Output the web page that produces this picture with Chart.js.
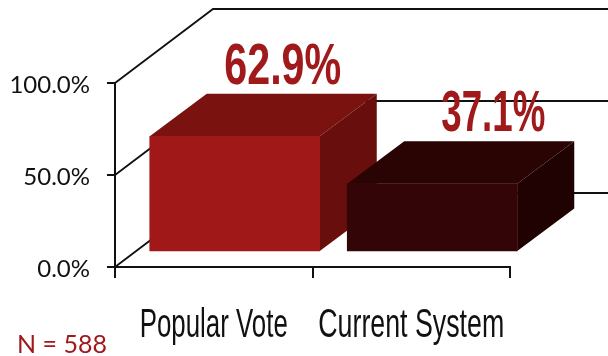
<!DOCTYPE html>
<html lang="en">
  <head>
    <meta charset="UTF-8" />
    <title>Popular Vote vs Current System</title>
    <script src="https://cdn.jsdelivr.net/npm/chart.js"></script>
    <style>
      html, body { margin: 0; padding: 0; background: #fff; }
      canvas { display: block; }
    </style>
  </head>
  <body>
    <canvas id="voteChart" width="608" height="356"></canvas>

    <script>
      const categories = ["Popular Vote", "Current System"];
      const shares = [62.9, 37.1];
      const yTicks = [0, 50, 100];
      const sampleNote = "N = 588";

      const frontColors = ["#A01818", "#340506"];
      const topColors = ["#7A1210", "#290403"];
      const sideColors = ["#680E0C", "#200202"];
      const labelRed = "#A01A1C";
      const lineColor = "#111";

      // fake 3D: how far the walls go back, where the bars sit, how deep they are
      const wallDepth = { x: 98, y: -74 };
      const barShift = { x: 21, y: -15 };
      const barDepth = { x: 57, y: -42.5 };
      const labelWidths = [117, 104];
      const labelNudge = [48, 61];
      const categoryWidths = [148, 186];

      function polygon(ctx, points, color) {
        ctx.fillStyle = color;
        ctx.beginPath();
        points.forEach((p, i) => (i ? ctx.lineTo(p[0], p[1]) : ctx.moveTo(p[0], p[1])));
        ctx.closePath();
        ctx.fill();
      }

      const walls = {
        id: "walls",
        beforeDatasetsDraw(chart) {
          const { ctx, scales, chartArea } = chart;
          ctx.save();
          ctx.strokeStyle = lineColor;
          ctx.lineWidth = 1.8;
          yTicks.forEach((tick) => {
            const y = scales.y.getPixelForValue(tick);
            ctx.beginPath();
            ctx.moveTo(chartArea.left, y);
            ctx.lineTo(chartArea.left + wallDepth.x, y + wallDepth.y);
            ctx.lineTo(chart.width, y + wallDepth.y);
            ctx.stroke();
          });
          ctx.restore();
        },
      };

      const boxes = {
        id: "boxes",
        beforeDatasetDraw(chart, args) {
          const { ctx } = chart;
          const bars = chart.getDatasetMeta(args.index).data;
          ctx.save();
          ctx.translate(barShift.x, barShift.y);
          // top and side faces go under the native bars, which are the front faces
          bars.forEach((bar, i) => {
            const left = bar.x - bar.width / 2;
            const right = bar.x + bar.width / 2;
            const dx = barDepth.x;
            const dy = barDepth.y;
            polygon(ctx, [[left, bar.y], [right, bar.y], [right + dx, bar.y + dy], [left + dx, bar.y + dy]], topColors[i]);
            polygon(ctx, [[right, bar.y], [right + dx, bar.y + dy], [right + dx, bar.base + dy], [right, bar.base]], sideColors[i]);
          });
        },
        afterDatasetDraw(chart) {
          chart.ctx.restore();
        },
        afterDraw(chart) {
          const { ctx, scales } = chart;
          const bars = chart.getDatasetMeta(0).data;
          ctx.save();
          ctx.textAlign = "center";
          ctx.textBaseline = "alphabetic";

          // value labels over each box
          ctx.fillStyle = labelRed;
          ctx.font = "bold 57px 'Liberation Sans Narrow', 'Liberation Sans'";
          bars.forEach((bar, i) => {
            const x = bar.x + barShift.x + labelNudge[i];
            ctx.fillText(shares[i].toFixed(1) + "%", x, bar.y + barShift.y + barDepth.y - 10, labelWidths[i]);
          });

          // category names, narrow and tall
          ctx.fillStyle = "#111";
          ctx.font = "40px 'Liberation Sans Narrow', 'Liberation Sans'";
          categories.forEach((name, i) => {
            ctx.fillText(name, scales.x.getPixelForValue(i), 337, categoryWidths[i]);
          });

          ctx.fillStyle = labelRed;
          ctx.textAlign = "left";
          ctx.font = "25px Lato";
          ctx.fillText(sampleNote, 17, 353);
          ctx.restore();
        },
      };

      new Chart(document.getElementById("voteChart").getContext("2d"), {
        type: "bar",
        data: {
          labels: categories,
          datasets: [{ data: shares, backgroundColor: frontColors, barThickness: 170, borderWidth: 0 }],
        },
        plugins: [walls, boxes],
        options: {
          responsive: false,
          animation: false,
          layout: { padding: { top: 83, right: 98 } },
          plugins: { legend: { display: false }, tooltip: { enabled: false } },
          scales: {
            x: {
              afterFit: (axis) => { axis.height = 89; },
              border: { color: lineColor, width: 2 },
              grid: { offset: true, drawOnChartArea: false, color: lineColor, lineWidth: 2, tickLength: 11 },
              ticks: { display: false },
            },
            y: {
              min: 0,
              max: 100,
              afterFit: (axis) => { axis.width = 115; },
              afterBuildTicks: (axis) => { axis.ticks = yTicks.map((value) => ({ value })); },
              border: { color: lineColor, width: 2 },
              grid: { drawOnChartArea: false, color: lineColor, lineWidth: 2, tickLength: 8 },
              ticks: {
                padding: 17,
                labelOffset: 2,
                color: "#111",
                font: { family: "Lato", size: 24 },
                callback: (value) => value.toFixed(1) + "%",
              },
            },
          },
        },
      });
    </script>
  </body>
</html>
